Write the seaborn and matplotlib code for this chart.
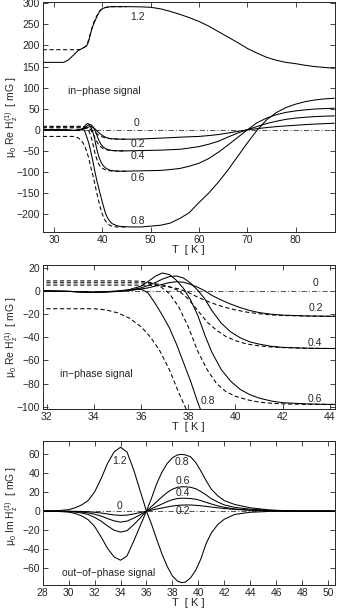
import matplotlib
matplotlib.use("Agg")
import matplotlib.pyplot as plt
import seaborn as sns

sns.set_style("ticks")
plt.rcParams["font.family"] = ["Liberation Sans", "DejaVu Sans"]
plt.rcParams["mathtext.fontset"] = "custom"
plt.rcParams["mathtext.rm"] = "Liberation Sans"
plt.rcParams["mathtext.it"] = "Liberation Sans:italic"
plt.rcParams["mathtext.default"] = "rm"
plt.rcParams["font.size"] = 7.5

# ---- in-phase signal, Re H (solid curves), same data used for the two top panels
T_re = [27.65, 30, 32, 33, 34, 35, 35.5, 36, 36.3, 36.6, 36.9, 37.2, 37.5, 37.8, 38.1, 38.4,
        38.7, 39.0, 39.4, 39.8, 40.2, 40.6, 41, 41.5, 42, 43, 44, 46, 48, 50, 52, 54, 56, 58,
        60, 62, 64, 66, 68, 70, 72, 74, 76, 78, 80, 82, 84, 86, 88]
re_02 = [0, 0, -0.2, -0.6, -1.4, -0.6, 0.3, 1.5, 2.5, 4, 5.5, 7, 7.8, 7.3, 5.5, 3, 0, -4, -8,
         -11.5, -14.5, -17, -18.8, -20.2, -21, -21.7, -22, -22, -21.5, -20.5, -19.5, -18.5,
         -17.3, -16.3, -15.5, -13.5, -11, -7.5, -3.5, 0, 3, 5.5, 7.8, 9.5, 11, 12.5, 13.8, 14.8, 15.8]
re_04 = [0, 0, -0.2, -0.6, -1.4, -0.6, 0.5, 2.5, 4.5, 7, 10, 12.2, 12.7, 11, 6.5, 0.5, -7, -17,
         -28, -35.5, -40.5, -44, -46, -47.8, -48.8, -49.5, -49.8, -49.5, -49, -48.5, -48, -47,
         -46, -43, -39.5, -34, -27, -17, -7.5, 0.5, 8, 15, 20.5, 25, 28, 30, 31.5, 32.5, 33.2]
re_06 = [0, 0, -0.2, -0.6, -1.4, -0.3, 1, 4, 8, 12.5, 15.3, 14, 9, 2, -8, -21, -38, -53, -68,
         -78, -85, -89.5, -92.5, -95, -96.5, -97.5, -98, -97.5, -97, -96.5, -96, -94, -91.5,
         -86, -79, -68, -53, -36, -18, 0, 17, 28, 36, 41.5, 45, 47.5, 49.5, 50.5, 51.4]
re_08 = [0, 0, -0.2, -0.6, -1.4, -0.3, 0.5, 1.5, -2, -11, -21, -32, -46, -62, -78, -96, -112,
         -127, -145, -163, -180, -196, -207, -216, -222, -227, -229, -230, -230, -228, -226,
         -221, -210, -196, -172, -150, -124, -95, -63, -31, -1, 24, 41, 53, 61, 67, 71, 73.5, 75]
re_12 = [160, 160, 160, 166, 177, 188, 191, 194, 196, 198, 202, 212, 225, 238, 248, 256, 264,
         272, 280, 285, 288, 290, 291, 291.5, 292, 292, 292, 292, 291.5, 290.5, 287, 281, 274,
         266, 257, 246, 233, 220, 207, 193, 182, 172, 165, 160, 157, 153, 150, 148, 146]

# dashed curves
T_d = [27.65, 30, 32, 34, 34.5, 35, 35.5, 36, 36.4, 36.8, 37.2, 37.6, 38, 38.4, 38.8, 39.2,
       39.6, 40, 40.5, 41, 41.5, 42, 43, 44, 45]
d_02 = [4.9, 4.9, 4.9, 4.9, 4.9, 4.9, 4.9, 4.8, 4.7, 4.3, 3.3, 1.6, -1.5, -5.5, -9, -12, -14.5,
        -16.5, -18.5, -19.8, -20.8, -21.3, -21.8, -22, -22]
d_04 = [6.9, 6.9, 6.9, 6.9, 6.9, 6.9, 6.9, 6.8, 6.4, 5.5, 3.5, 0, -7, -17, -27, -34, -39.5,
        -43, -46, -47.5, -48.5, -49, -49.6, -49.8, -49.8]
d_06 = [8.5, 8.5, 8.5, 8.5, 8.5, 8.5, 8.5, 8.2, 7, 4, -2.5, -14, -31, -52, -68, -80, -87, -91,
        -94, -96, -97, -97.5, -98, -98, -98]
d_08 = [-15.5, -15.5, -15.5, -15.5, -16.5, -19, -23.5, -31, -40, -52, -68, -88, -106, -126,
        -147, -167, -185, -200, -213, -221, -226, -228.5, -230, -230, -230]
d_12 = [190, 190, 190, 190, 190, 190, 191, 194, 197, 201, 215, 232, 248, 260, 269, 278, 284,
        287.5, 289.5, 291, 291.5, 292, 292, 292, 292]

# ---- out-of-phase signal, Im H
T_im = [28, 29, 30, 30.5, 31, 31.5, 32, 32.5, 33, 33.5, 34, 34.5, 35, 35.5, 36, 36.4, 36.8,
        37.2, 37.6, 38, 38.4, 38.7, 39, 39.4, 39.8, 40.2, 40.6, 41, 41.5, 42, 42.8, 44, 45.5,
        47, 48, 50.5]
im_02 = [0, 0, -0.1, -0.2, -0.4, -0.7, -1.2, -2, -3, -4, -4.5, -4.2, -3, -1.6, 0, 1, 2.2, 3.3,
         4.4, 5.3, 6, 6.3, 6.5, 6.4, 6.1, 5.6, 5, 4.3, 3.5, 2.7, 1.8, 0.9, 0.4, 0.1, 0, 0]
im_04 = [0, -0.05, -0.3, -0.5, -1, -1.8, -3.2, -5.2, -7.8, -10.2, -11.5, -10.5, -7.5, -4, 0,
         2.5, 5, 7.5, 10, 12, 13.2, 13.5, 13.5, 13.2, 12.5, 11, 9.2, 7.5, 5.5, 4, 2.3, 1.1,
         0.4, 0.1, 0, 0]
im_06 = [0, -0.1, -0.5, -1, -2, -3.5, -6.5, -10.5, -15.5, -20, -22, -20.5, -14.5, -7.5, 0, 5,
         10, 15, 19.5, 23, 25, 25.5, 25.5, 25, 23.5, 20.5, 17, 13, 9.5, 6.5, 4, 2, 0.8, 0.2, 0, 0]
im_08 = [0, -0.2, -1, -2.5, -5, -9, -16, -27, -39, -48, -51.5, -47, -32, -16, 0, 14, 29, 41,
         50, 56, 59, 59.5, 59, 57, 51, 42, 32, 23, 16, 11, 7, 3.5, 1.2, 0.3, 0, 0]
im_12 = [0, 0.3, 1.5, 3.5, 6.5, 11, 20, 34, 50, 62, 67, 62, 44, 22, 0, -14, -30, -45, -58,
         -68, -73.5, -75, -74.5, -70, -62, -50, -34, -23, -14, -8.5, -3.5, -1.2, -0.3, 0, 0, 0]

# zero-field reference line
T_zero_re = [27.65, 88]
T_zero_im = [28, 50.5]
zero = [0, 0]

DASH = (0, (4, 2.5))
DASHDOT = (0, (5, 2, 1, 2))


def curve(ax, x, y, ls="-", color="k"):
    sns.lineplot(x=x, y=y, ax=ax, color=color, lw=0.75, ls=ls,
                 sort=False, estimator=None, legend=False)


def style_axes(ax, xlim, ylim, xticks, yticks, ylabel, ycoord=0.5):
    ax.set_xlim(*xlim)
    ax.set_ylim(*ylim)
    ax.set_xticks(xticks)
    ax.set_yticks(yticks)
    ax.tick_params(direction="in", top=True, right=True, length=3.5, width=0.6,
                   labelsize=7.5, pad=2)
    for s in ax.spines.values():
        s.set_linewidth(0.7)
        s.set_visible(True)
    ax.set_xlabel("T  [ K ]", fontsize=8, labelpad=0)
    ax.set_ylabel(ylabel, fontsize=7.5, va="center")
    ax.yaxis.set_label_coords(-0.108, ycoord)


fig = plt.figure(figsize=(3.37, 6.14), dpi=100)
ax1 = fig.add_axes([0.1267, 0.6221, 0.8659, 0.3746])
ax2 = fig.add_axes([0.1267, 0.3334, 0.8659, 0.2350])
ax3 = fig.add_axes([0.1267, 0.0472, 0.8659, 0.2345])

re_label = "μ$_0$ Re H$_z^{(1)}$  [ mG ]"

for ax in (ax1, ax2):
    curve(ax, T_zero_re, zero, ls=DASHDOT, color="0.35")
    for d in (d_02, d_04, d_06, d_08, d_12):
        curve(ax, T_d, d, ls=DASH)
    for r in (re_02, re_04, re_06, re_08, re_12):
        curve(ax, T_re, r)

style_axes(ax1, (27.65, 88.05), (-242, 303), range(30, 90, 10), range(-200, 301, 50), re_label)
style_axes(ax2, (31.83, 44.2), (-102.2, 22.2), range(32, 45, 2), range(-100, 21, 20), re_label)

for s, x, y in [("1.2", 47.3, 268), ("0", 47.1, 16), ("0.2", 47.4, -34), ("0.4", 47.4, -63),
                ("0.6", 47.4, -114), ("0.8", 47.4, -215)]:
    ax1.text(x, y, s, ha="center", va="center", fontsize=7.5)
ax1.text(40.5, 91, "in\u2212phase signal", ha="center", va="center", fontsize=7.5)

for s, x, y in [("0", 43.4, 7), ("0.2", 43.4, -15), ("0.4", 43.35, -44.8),
                ("0.6", 43.35, -93.6), ("0.8", 38.85, -95)]:
    ax2.text(x, y, s, ha="center", va="center", fontsize=7.5)
ax2.text(34.12, -71.8, "in\u2212phase signal", ha="center", va="center", fontsize=7.5)

curve(ax3, T_zero_im, zero, ls=DASHDOT, color="0.35")
for m in (im_02, im_04, im_06, im_08, im_12):
    curve(ax3, T_im, m)
style_axes(ax3, (28, 50.5), (-77.5, 73.5), range(28, 51, 2), range(-60, 61, 20),
           "μ$_0$ Im H$_z^{(1)}$  [ mG ]", ycoord=0.55)

for s, x, y in [("1.2", 33.95, 52.5), ("0.8", 38.75, 51), ("0.6", 38.8, 31.5),
                ("0.4", 38.8, 18.5), ("0.2", 38.8, 0.5), ("0", 33.9, 5.5)]:
    ax3.text(x, y, s, ha="center", va="center", fontsize=7.5)
ax3.text(33.05, -65.4, "out\u2212of\u2212phase signal", ha="center", va="center", fontsize=7.5)

fig.savefig("out.png", dpi=100)
